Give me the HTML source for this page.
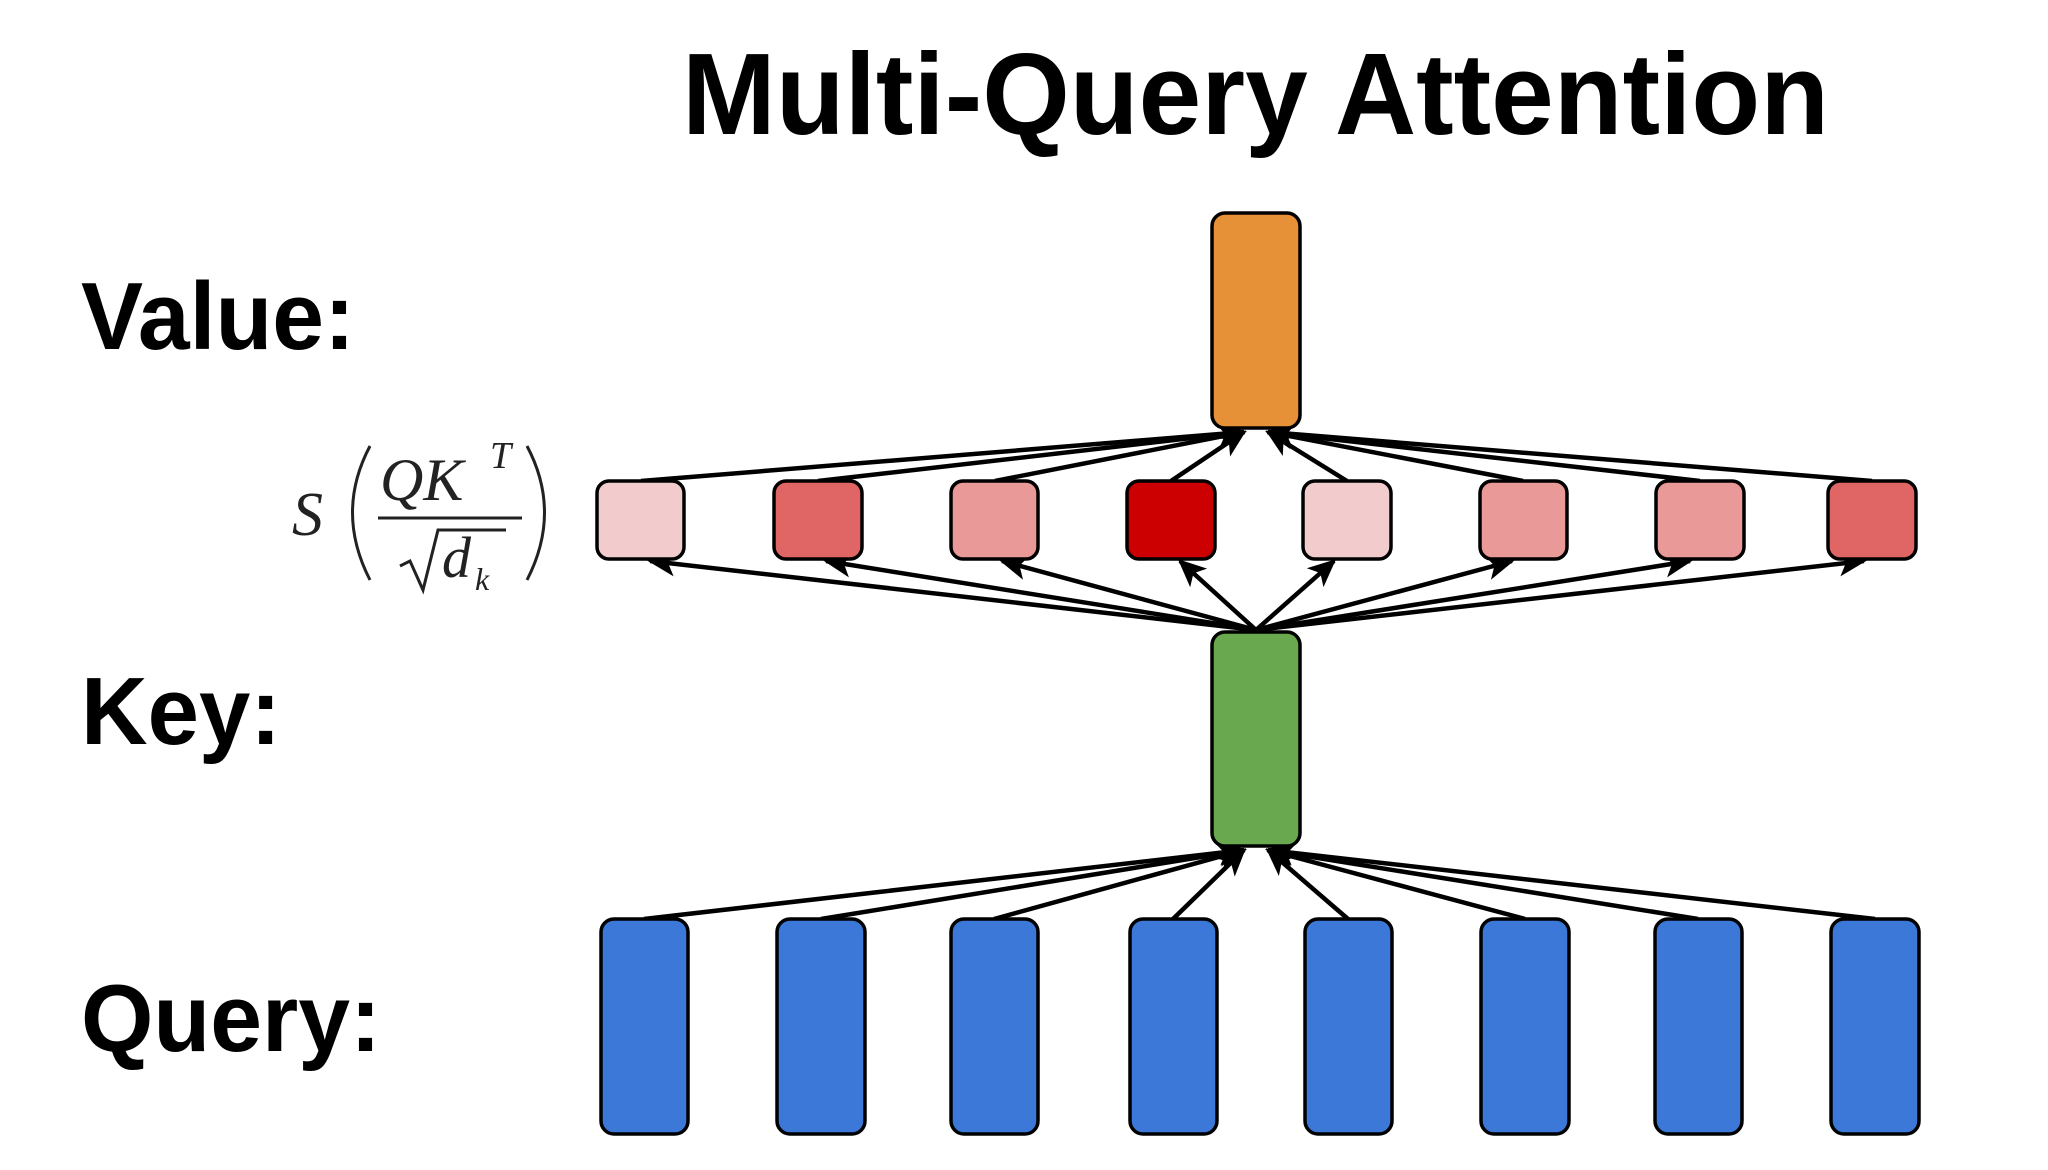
<!DOCTYPE html>
<html><head><meta charset="utf-8"><style>
html,body{margin:0;padding:0;background:#fff;}
svg{display:block;}
</style></head><body>
<svg width="2048" height="1170" viewBox="0 0 2048 1170" xmlns="http://www.w3.org/2000/svg">
<defs>
<marker id="a" viewBox="0 0 10 10" refX="9" refY="5" markerWidth="28" markerHeight="28" markerUnits="userSpaceOnUse" orient="auto"><path d="M0,0.5 L10,5 L0,9.5 L2.5,5 z" fill="#000"/></marker>
</defs>
<rect width="2048" height="1170" fill="#fff"/>
<text x="682" y="134" font-family="Liberation Sans, sans-serif" font-weight="bold" font-size="116" textLength="1147" lengthAdjust="spacingAndGlyphs">Multi-Query Attention</text>
<text x="81" y="349" font-family="Liberation Sans, sans-serif" font-weight="bold" font-size="96" textLength="274" lengthAdjust="spacingAndGlyphs">Value:</text>
<text x="81" y="744" font-family="Liberation Sans, sans-serif" font-weight="bold" font-size="96" textLength="200" lengthAdjust="spacingAndGlyphs">Key:</text>
<text x="81" y="1051" font-family="Liberation Sans, sans-serif" font-weight="bold" font-size="96" textLength="300" lengthAdjust="spacingAndGlyphs">Query:</text>
<!-- formula -->
<g font-family="Liberation Serif, serif" font-style="italic" fill="#222">
<text x="292" y="535" font-size="62">S</text>
<path d="M370,446 Q335,512 370,580" stroke="#222" stroke-width="3" fill="none"/>
<text x="380" y="500" font-size="60">QK</text>
<text x="490" y="468" font-size="38">T</text>
<line x1="378" y1="518" x2="522" y2="518" stroke="#222" stroke-width="3"/>
<path d="M400,566 L410,561 L423,590 L438,530 L506,530" stroke="#222" stroke-width="3" fill="none"/>
<text x="442" y="577" font-size="58">d</text>
<text x="475" y="590" font-size="32">k</text>
<path d="M527,446 Q562,512 527,580" stroke="#222" stroke-width="3" fill="none"/>
</g>
<g stroke="#000" stroke-width="4.5" fill="none">
<line x1="641" y1="481" x2="1244" y2="432" marker-end="url(#a)"/>
<line x1="818" y1="481" x2="1244" y2="432" marker-end="url(#a)"/>
<line x1="995" y1="481" x2="1244" y2="432" marker-end="url(#a)"/>
<line x1="1171" y1="481" x2="1244" y2="432" marker-end="url(#a)"/>
<line x1="1347" y1="481" x2="1268" y2="432" marker-end="url(#a)"/>
<line x1="1523" y1="481" x2="1268" y2="432" marker-end="url(#a)"/>
<line x1="1700" y1="481" x2="1268" y2="432" marker-end="url(#a)"/>
<line x1="1872" y1="481" x2="1268" y2="432" marker-end="url(#a)"/>
<line x1="1256" y1="630" x2="650" y2="561" marker-end="url(#a)"/>
<line x1="1256" y1="630" x2="826" y2="561" marker-end="url(#a)"/>
<line x1="1256" y1="630" x2="1002" y2="561" marker-end="url(#a)"/>
<line x1="1256" y1="630" x2="1180" y2="561" marker-end="url(#a)"/>
<line x1="1256" y1="630" x2="1334" y2="561" marker-end="url(#a)"/>
<line x1="1256" y1="630" x2="1512" y2="561" marker-end="url(#a)"/>
<line x1="1256" y1="630" x2="1690" y2="561" marker-end="url(#a)"/>
<line x1="1256" y1="630" x2="1864" y2="561" marker-end="url(#a)"/>
<line x1="644" y1="919" x2="1244" y2="850" marker-end="url(#a)"/>
<line x1="821" y1="919" x2="1244" y2="850" marker-end="url(#a)"/>
<line x1="994" y1="919" x2="1244" y2="850" marker-end="url(#a)"/>
<line x1="1173" y1="919" x2="1244" y2="850" marker-end="url(#a)"/>
<line x1="1348" y1="919" x2="1268" y2="850" marker-end="url(#a)"/>
<line x1="1525" y1="919" x2="1268" y2="850" marker-end="url(#a)"/>
<line x1="1698" y1="919" x2="1268" y2="850" marker-end="url(#a)"/>
<line x1="1875" y1="919" x2="1268" y2="850" marker-end="url(#a)"/>
</g>
<g stroke="#000" stroke-width="3.5">
<rect x="1212" y="213" width="88" height="215" rx="13" fill="#e69138"/>
<rect x="1212" y="632" width="88" height="214" rx="13" fill="#6aa84f"/>
<rect x="597" y="481" width="87" height="78" rx="12" fill="#f2cccc"/>
<rect x="774" y="481" width="88" height="78" rx="12" fill="#e06666"/>
<rect x="951" y="481" width="87" height="78" rx="12" fill="#ea9999"/>
<rect x="1127" y="481" width="88" height="78" rx="12" fill="#cc0000"/>
<rect x="1303" y="481" width="88" height="78" rx="12" fill="#f2cccc"/>
<rect x="1480" y="481" width="87" height="78" rx="12" fill="#ea9999"/>
<rect x="1656" y="481" width="88" height="78" rx="12" fill="#ea9999"/>
<rect x="1828" y="481" width="88" height="78" rx="12" fill="#e06666"/>
<g fill="#3c78d8">
<rect x="601" y="919" width="87" height="215" rx="13"/>
<rect x="777" y="919" width="88" height="215" rx="13"/>
<rect x="951" y="919" width="87" height="215" rx="13"/>
<rect x="1130" y="919" width="87" height="215" rx="13"/>
<rect x="1305" y="919" width="87" height="215" rx="13"/>
<rect x="1481" y="919" width="88" height="215" rx="13"/>
<rect x="1655" y="919" width="87" height="215" rx="13"/>
<rect x="1831" y="919" width="88" height="215" rx="13"/>
</g>
</g>
</svg>
</body></html>
